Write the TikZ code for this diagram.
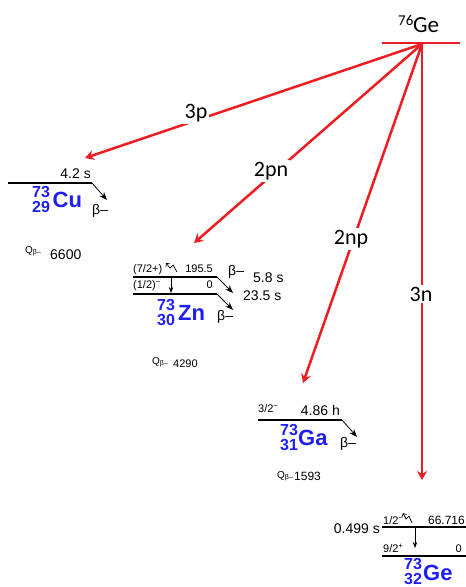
\documentclass[tikz,border=0pt]{standalone}
\usepackage{fontspec}
\setmainfont{Liberation Sans}
\newfontfamily\calibfont{Carlito}
\usetikzlibrary{arrows.meta, positioning, calc}
\definecolor{chanred}{HTML}{EE1D23}
\definecolor{isoblue}{HTML}{1F1FF2}
\newcommand{\fsz}[1]{\fontsize{#1}{#1}\selectfont}

\begin{document}
\begin{tikzpicture}[
    x=1pt, y=-1pt,
    level/.style={line width=1.1pt},
    betaline/.style={-{Stealth[length=8pt, width=6pt]}, line width=0.8pt},
    gline/.style={-{Stealth[length=6pt, width=4.5pt]}, line width=0.8pt},
    gwave/.style={-{Straight Barb[length=2.5pt, width=5pt]}, line width=0.7pt},
    chanline/.style={-{Stealth[length=9pt, width=10pt, inset=3pt]}, line width=2.5pt, chanred},
    chanlabel/.style={fill=white, inner sep=2pt, font=\calibfont\fsz{22}},
    txt/.style={inner sep=0pt, font=\fsz{#1}},
    iso/.style={inner sep=0pt, text=isoblue, font=\bfseries\fsz{#1}},
  ]
  \useasboundingbox (0,0) rectangle (466,587);
  % Parent 76Ge
  \node[anchor=base west, inner sep=0pt, font=\calibfont\fsz{15}] (gesup) at (398,25) {76};
  \node[anchor=base west, inner sep=0pt, font=\calibfont\fsz{23}] (gesym) at (413,32) {Ge};
  \coordinate (gesL) at (382,43);
  \coordinate (gesR) at (460,43);
  \coordinate (src) at (422,44);
  \draw[chanred, line width=2.5pt] (gesL) -- (gesR);
  % Channel ends
  \coordinate (t3p) at (85,158);
  \coordinate (t2pn) at (194,243);
  \coordinate (t2np) at (303,383);
  \coordinate (t3n) at (422,480);
  \draw[chanline] (src) -- (t3p);
  \draw[chanline] (src) -- (t2pn);
  \draw[chanline] (src) -- (t2np);
  \draw[chanline] (src) -- (t3n);
  \node[chanlabel] (l3p) at (196,113) {3p};
  \node[chanlabel] (l2pn) at (271,171) {2pn};
  \node[chanlabel] (l2np) at (351,239) {2np};
  \node[chanlabel] (l3n) at (421,294) {3n};

  % 73Cu
  \coordinate (cuL) at (8,183);
  \coordinate (cuR) at (92,183);
  \coordinate (cuB) at (107,200);
  \draw[level] (cuL) -- (cuR);
  \draw[betaline] (cuR) -- (cuB);
  \node[txt=14, anchor=base east] (cuT) at (91,178) {4.2 s};
  \node[txt=14, anchor=base west] (cuBeta) at (92,214) {β–};
  \node[iso=16, anchor=base west] (cuA) at (32,197) {73};
  \node[iso=16, anchor=base west] (cuZ) at (32,212) {29};
  \node[iso=22, anchor=base west] (cuS) at (52.5,207) {Cu};
  \node[txt=10, anchor=base west] (cuQ) at (25,253) {Q\textsubscript{β–}};
  \node[txt=14, anchor=base west] (cuQv) at (50,259) {6600};

  % 73Zn
  \coordinate (znL1) at (133,277);
  \coordinate (znR1) at (217,277);
  \coordinate (znL2) at (133,294);
  \coordinate (znR2) at (217,294);
  \coordinate (znB1) at (233,293);
  \coordinate (znB2) at (233,310);
  \coordinate (znG1) at (171,278);
  \coordinate (znG2) at (171,293);
  \draw[level] (znL1) -- (znR1);
  \draw[level] (znL2) -- (znR2);
  \draw[betaline] (znR1) -- (znB1);
  \draw[betaline] (znR2) -- (znB2);
  \draw[gline] (znG1) -- (znG2);
  \draw[gwave] (177,272) -- (173,265) -- (170,268) -- (166,263);
  \node[txt=11, anchor=base west] (znJ1) at (133,272) {(7/2+)};
  \node[txt=11, anchor=base east] (znE1) at (213,272) {195.5};
  \node[txt=11, anchor=base west] (znJ2) at (133,288) {(1/2)\textsuperscript{−}};
  \node[txt=11, anchor=base east] (znE2) at (213,288) {0};
  \node[txt=14, anchor=base west] (znBeta1) at (228,275) {β–};
  \node[txt=14, anchor=base west] (znT1) at (253,282) {5.8 s};
  \node[txt=14, anchor=base west] (znT2) at (243,300) {23.5 s};
  \node[txt=14, anchor=base west] (znBeta2) at (217,320) {β–};
  \node[iso=16, anchor=base west] (znA) at (157,310.5) {73};
  \node[iso=16, anchor=base west] (znZ) at (157,325) {30};
  \node[iso=22, anchor=base west] (znS) at (178,320) {Zn};
  \node[txt=10, anchor=base west] (znQ) at (152,364) {Q\textsubscript{β–}};
  \node[txt=11, anchor=base west] (znQv) at (173,367) {4290};

  % 73Ga
  \coordinate (gaL) at (258,420);
  \coordinate (gaR) at (342,420);
  \coordinate (gaB) at (357,437);
  \draw[level] (gaL) -- (gaR);
  \draw[betaline] (gaR) -- (gaB);
  \node[txt=11, anchor=base west] (gaJ) at (258,412) {3/2\textsuperscript{−}};
  \node[txt=14, anchor=base east] (gaT) at (340,415) {4.86 h};
  \node[txt=14, anchor=base west] (gaBeta) at (340,447) {β–};
  \node[iso=16, anchor=base west] (gaA) at (280,435) {73};
  \node[iso=16, anchor=base west] (gaZ) at (280,450) {31};
  \node[iso=22, anchor=base west] (gaS) at (298,445) {Ga};
  \node[txt=10, anchor=base west] (gaQ) at (277,478) {Q\textsubscript{β–}};
  \node[txt=12, anchor=base west] (gaQv) at (294,480) {1593};

  % 73Ge
  \coordinate (geL1) at (382,527);
  \coordinate (geR1) at (466,527);
  \coordinate (geL2) at (382,556);
  \coordinate (geR2) at (466,556);
  \coordinate (geG1) at (415,528);
  \coordinate (geG2) at (415,548);
  \draw[level] (geL1) -- (geR1);
  \draw[level] (geL2) -- (geR2);
  \draw[gline] (geG1) -- (geG2);
  \draw[gwave] (412,523) -- (409,516) -- (406,519) -- (403,513);
  \node[txt=14, anchor=base east] (geT) at (380,533) {0.499 s};
  \node[txt=11, anchor=base west] (geJ1) at (383,524) {1/2\textsuperscript{−}};
  \node[txt=12, anchor=base east] (geE1) at (465,524) {66.716};
  \node[txt=11, anchor=base west] (geJ2) at (383,552) {9/2\textsuperscript{+}};
  \node[txt=11, anchor=base east] (geE2) at (462,552) {0};
  \node[iso=16, anchor=base west] (geA) at (404,569.5) {73};
  \node[iso=16, anchor=base west] (geZ) at (404,584) {32};
  \node[iso=22, anchor=base west] (geS) at (423,580) {Ge};
\end{tikzpicture}
\end{document}
